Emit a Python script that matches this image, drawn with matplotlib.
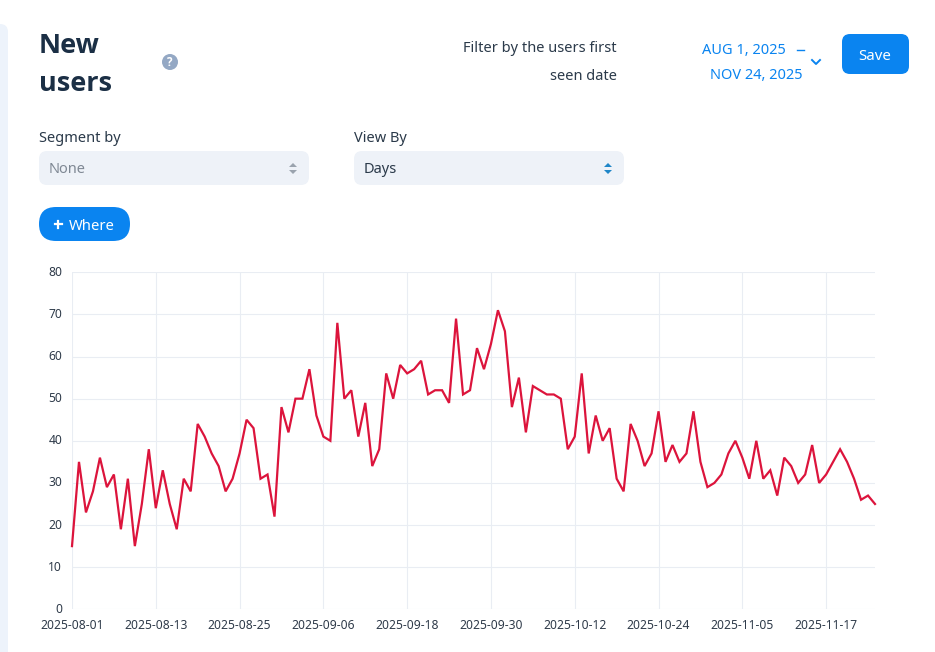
import pandas as pd
import matplotlib
matplotlib.use("Agg")
import matplotlib.pyplot as plt
from matplotlib.patches import FancyBboxPatch, Circle, Polygon

# datos
fecha_inicio = "2025-08-01"
nuevos_usuarios = [
    15, 35, 23, 28, 36, 29, 32, 19, 31, 15, 25, 38, 24, 33, 25, 19, 31, 28, 44, 41,
    37, 34, 28, 31, 37, 45, 43, 31, 32, 22, 48, 42, 50, 50, 57, 46, 41, 40, 68, 50,
    52, 41, 49, 34, 38, 56, 50, 58, 56, 57, 59, 51, 52, 52, 49, 69, 51, 52, 62, 57,
    63, 71, 66, 48, 55, 42, 53, 52, 51, 51, 50, 38, 41, 56, 37, 46, 40, 43, 31, 28,
    44, 40, 34, 37, 47, 35, 39, 35, 37, 47, 35, 29, 30, 32, 37, 40, 36, 31, 40, 31,
    33, 27, 36, 34, 30, 32, 39, 30, 32, 35, 38, 35, 31, 26, 27, 25,
]
etiquetas_x = [
    "2025-08-01", "2025-08-13", "2025-08-25", "2025-09-06", "2025-09-18",
    "2025-09-30", "2025-10-12", "2025-10-24", "2025-11-05", "2025-11-17",
]
etiquetas_y = [0, 10, 20, 30, 40, 50, 60, 70, 80]

AZUL = "#0A84F0"
OSCURO = "#1B2F45"
TEXTO = "#2B3A4A"
FONDO_CAMPO = "#EEF2F8"
FUENTE = "Noto Sans"
TAM = 10.5

fig = plt.figure(figsize=(9.35, 6.52), dpi=100)
plt.rcParams["font.family"] = FUENTE

# capa de interfaz en pixeles
ui = fig.add_axes([0, 0, 1, 1])
ui.set_xlim(0, 935)
ui.set_ylim(652, 0)
ui.axis("off")


def caja(x, y, w, h, radio, color):
    ui.add_patch(FancyBboxPatch((x, y), w, h, boxstyle=f"round,pad=0,rounding_size={radio}",
                                facecolor=color, edgecolor="none"))


def flechas(x, y, arriba, abajo):
    ui.add_patch(Polygon([(x - 4, y - 1), (x + 4, y - 1), (x, y - 5)], facecolor=arriba, edgecolor="none"))
    ui.add_patch(Polygon([(x - 4, y + 2), (x + 4, y + 2), (x, y + 6)], facecolor=abajo, edgecolor="none"))


# barra lateral
caja(-20, 24, 28, 680, 8, "#EDF3FB")

# titulo
ui.text(39, 46, "New", fontsize=19.5, fontweight="bold", family="Open Sans", color=OSCURO, va="center")
ui.text(39, 84, "users", fontsize=19.5, fontweight="bold", family="Open Sans", color=OSCURO, va="center")
ui.add_patch(Circle((170, 62), 8, facecolor="#94A8C4", edgecolor="none"))
ui.text(170, 62, "?", fontsize=8.5, fontweight="bold", family="Open Sans", color="white", ha="center", va="center")

# filtro de fechas
ui.text(617, 49, "Filter by the users first", fontsize=TAM, color=TEXTO, ha="right", va="center")
ui.text(617, 77, "seen date", fontsize=TAM, color=TEXTO, ha="right", va="center")
ui.text(702, 50.5, "AUG 1, 2025", fontsize=TAM, color=AZUL, va="center")
ui.plot([796.5, 803.5], [50, 50], color=AZUL, lw=1)
ui.text(803, 75.5, "NOV 24, 2025", fontsize=TAM, color=AZUL, ha="right", va="center")
ui.plot([812, 816, 820], [60, 64, 60], color=AZUL, lw=1.4)

caja(842, 34, 67, 40, 8, AZUL)
ui.text(875, 56.5, "Save", fontsize=10.8, color="white", ha="center", va="center")

# selectores
ui.text(39, 138.5, "Segment by", fontsize=TAM, color=TEXTO, va="center")
caja(39, 151, 270, 34, 8, FONDO_CAMPO)
ui.text(49, 169.5, "None", fontsize=TAM, color="#7F8894", va="center")
flechas(293, 168, "#9AA3AE", "#9AA3AE")

ui.text(354, 138.5, "View By", fontsize=TAM, color=TEXTO, va="center")
caja(354, 151, 270, 34, 8, FONDO_CAMPO)
ui.text(364, 169.5, "Days", fontsize=TAM, color=TEXTO, va="center")
flechas(608, 168, "#1F86C8", "#1F86C8")

# boton where
caja(39, 207, 91, 34, 17, AZUL)
ui.plot([54.5, 61.5], [224, 224], color="white", lw=1.6)
ui.plot([58, 58], [220.5, 227.5], color="white", lw=1.6)
ui.text(69, 226.5, "Where", fontsize=10.7, color="white", va="center")

# grafico principal
ax = fig.add_axes([72 / 935, 1 - 609.3 / 652, (875 - 72) / 935, (609.3 - 272.3) / 652])
ax.patch.set_alpha(0)
fechas = pd.date_range(fecha_inicio, periods=len(nuevos_usuarios), freq="D")
ax.plot(fechas, nuevos_usuarios, color="#DC143C", lw=1.6, solid_joinstyle="miter", clip_on=False)
ax.set_xlim(fechas[0], fechas[-1])
ax.set_ylim(0, 80)
ax.set_xticks(pd.to_datetime(etiquetas_x))
ax.set_xticklabels(etiquetas_x)
ax.set_yticks(etiquetas_y)
ax.tick_params(length=0, labelsize=8.7, labelcolor="#2F3B4A")
ax.tick_params(axis="x", pad=7)
ax.tick_params(axis="y", pad=7)
for lbl in ax.get_yticklabels():
    lbl.set_verticalalignment("center")
ax.grid(True, color="#E9EDF3", lw=0.8)
ax.set_axisbelow(True)
for lado in ax.spines.values():
    lado.set_visible(False)

fig.savefig("out.png", dpi=100)
